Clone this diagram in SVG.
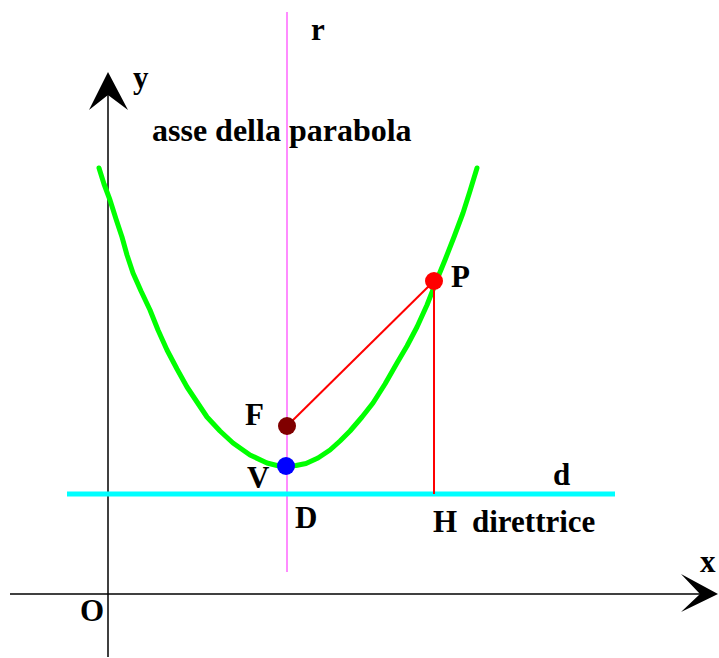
<svg xmlns="http://www.w3.org/2000/svg" width="719" height="658" viewBox="0 0 719 658">
<style>
text{font-family:"Liberation Serif","Times New Roman",serif;font-weight:bold;font-size:31px;fill:#000}
.ax{stroke:#000;stroke-width:1.5;fill:none}
.seg{stroke:#ff0000;stroke-width:2;fill:none}
</style>
<rect width="719" height="658" fill="#fff"/>
<g id="axes">
<line class="ax" x1="108" y1="657" x2="108" y2="90"/>
<polygon points="108,72 128,110 108,95 89,110" fill="#000"/>
<line class="ax" x1="10" y1="594" x2="700" y2="594"/>
<polygon points="718,594 681,574 700,594 681,612" fill="#000"/>
<text x="133" y="88">y</text>
<text x="700" y="572">x</text>
<text x="80" y="621">O</text>
</g>
<g id="axis-r">
<line x1="287" y1="12" x2="287" y2="572" stroke="#ff66ff" stroke-width="1.5"/>
<text x="311" y="40">r</text>
<text x="152" y="141" style="font-size:32px">asse della parabola</text>
</g>
<g id="directrix">
<line x1="67" y1="494" x2="615" y2="494" stroke="#00ffff" stroke-width="5"/>
<text x="553" y="485">d</text>
<text x="472" y="532">direttrice</text>
</g>
<g id="parabola">
<polyline points="99,168 104,184 110,200 116,219 122,237 127,255 133,273 141,291 150,310 158,330 167,350 177,369 187,387 197,402 207,417 220,431 233,443 250,455 267,463 277,465.5 286,466 296,465.5 306,463.5 318,458 330,450 340,441 350,431 362,417 373,403 385,384 397,363 407,346 417,327 427,305 436,282 445,260 454,237 463,213 470,191 477,168" fill="none" stroke="#00ff00" stroke-width="5" stroke-linecap="round" stroke-linejoin="round"/>
</g>
<g id="connectors">
<line class="seg" x1="287" y1="426" x2="434" y2="281"/>
<line class="seg" x1="434" y1="281" x2="434" y2="494"/>
</g>
<g id="F">
<circle cx="287" cy="426" r="9" fill="#800000"/>
<text x="245" y="425">F</text>
</g>
<g id="V">
<circle cx="286" cy="466" r="9" fill="#0000ff"/>
<text x="247" y="488">V</text>
</g>
<g id="P">
<circle cx="434" cy="281" r="9" fill="#ff0000"/>
<text x="451" y="287">P</text>
</g>
<g id="D">
<text x="295" y="528">D</text>
</g>
<g id="H">
<text x="433" y="532">H</text>
</g>
</svg>
